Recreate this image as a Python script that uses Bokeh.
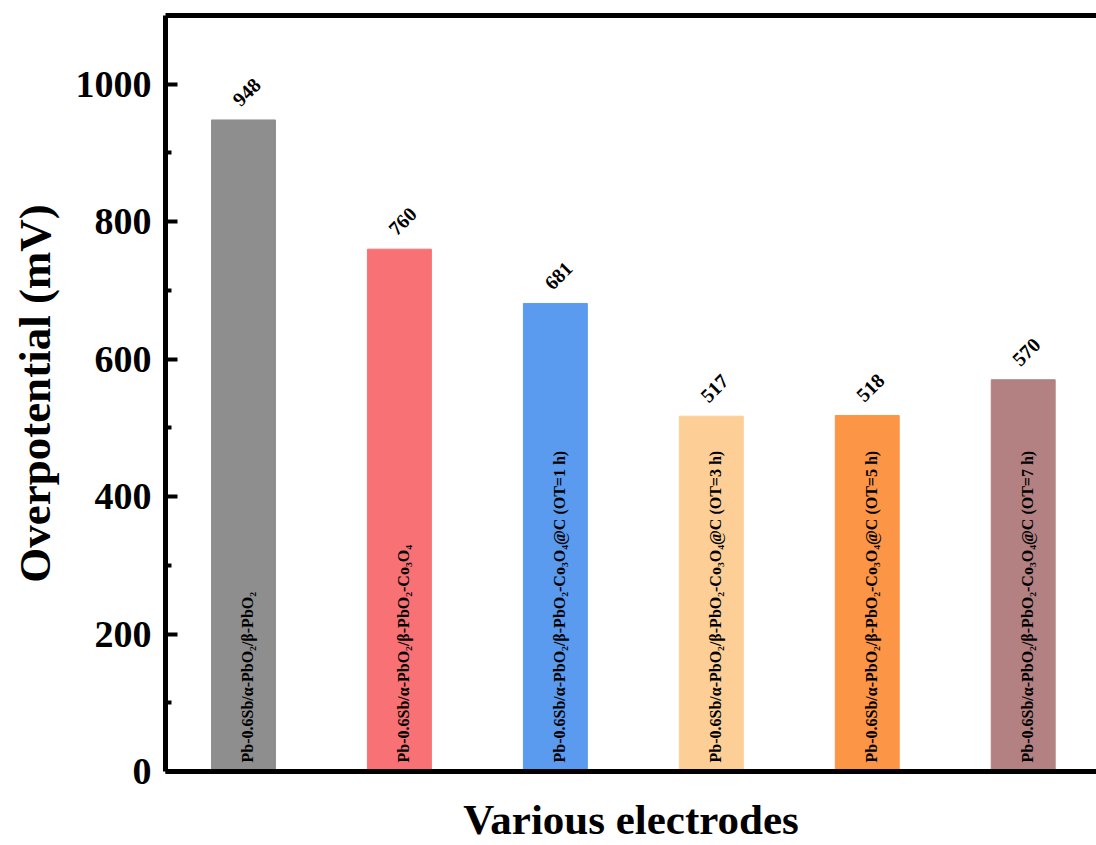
from bokeh.plotting import figure
from bokeh.models import (ColumnDataSource, Range1d, FixedTicker, LinearAxis)
from bokeh.core.properties import value
from bokeh.embed import file_html
from bokeh.resources import INLINE

# Electrode samples and their overpotentials (mV)
electrodes = [
    "Pb-0.6Sb/α-PbO₂/β-PbO₂",
    "Pb-0.6Sb/α-PbO₂/β-PbO₂-Co₃O₄",
    "Pb-0.6Sb/α-PbO₂/β-PbO₂-Co₃O₄@C (OT=1 h)",
    "Pb-0.6Sb/α-PbO₂/β-PbO₂-Co₃O₄@C (OT=3 h)",
    "Pb-0.6Sb/α-PbO₂/β-PbO₂-Co₃O₄@C (OT=5 h)",
    "Pb-0.6Sb/α-PbO₂/β-PbO₂-Co₃O₄@C (OT=7 h)",
]
overpotential = [948, 760, 681, 517, 518, 570]
bar_colors = ["#8e8e8e", "#f87275", "#5a9bef", "#fdcf97", "#fd9547", "#b38181"]
y_ticks = [0, 200, 400, 600, 800, 1000]
y_minor = [100, 300, 500, 700, 900]

FONT = "Liberation Serif"

src = ColumnDataSource(dict(
    x=list(range(len(electrodes))),
    y=overpotential,
    name=electrodes,
    color=bar_colors,
    label=[str(v) for v in overpotential],
    zero=[0] * len(electrodes),
))

p = figure(width=1096, height=845, output_backend="svg", toolbar_location=None,
           x_range=Range1d(-0.5, 5.47), y_range=Range1d(0, 1100),
           min_border_left=165, min_border_right=0, min_border_top=15,
           min_border_bottom=74, background_fill_color="white",
           border_fill_color="white")
p.outline_line_color = None
p.grid.visible = False

p.vbar(x="x", top="y", width=0.41, color="color", source=src)

# value above each bar, tilted 45 degrees
p.text(x="x", y="y", text="label", source=src, angle=0.7854,
       text_align="center", text_baseline="middle",
       x_offset=3, y_offset=-28,
       text_font=value(FONT), text_font_style="bold",
       text_font_size="20px", text_color="black")

# electrode name written upward inside each bar
p.text(x="x", y="zero", text="name", source=src, angle=1.5708,
       text_align="left", text_baseline="middle",
       x_offset=4, y_offset=-9,
       text_font=value(FONT), text_font_style="bold",
       text_font_size="16px", text_color="black")

# y axis
ya = p.yaxis[0]
ya.ticker = FixedTicker(ticks=y_ticks, minor_ticks=y_minor)
ya.axis_line_width = 5
ya.axis_line_color = "black"
ya.major_tick_line_width = 4
ya.minor_tick_line_width = 4
ya.major_tick_line_color = "black"
ya.minor_tick_line_color = "black"
ya.major_tick_in = 12
ya.major_tick_out = 0
ya.minor_tick_in = 6
ya.minor_tick_out = 0
ya.major_label_text_font = FONT
ya.major_label_text_font_style = "bold"
ya.major_label_text_font_size = "38px"
ya.major_label_text_color = "black"
ya.major_label_standoff = 14
ya.axis_label = "Overpotential (mV)"
ya.axis_label_text_font = FONT
ya.axis_label_text_font_style = "bold"
ya.axis_label_text_font_size = "45px"
ya.axis_label_text_color = "black"
ya.axis_label_standoff = 13

# x axis: heavy baseline plus title
xa = p.xaxis[0]
xa.ticker = FixedTicker(ticks=[])
xa.axis_line_width = 5
xa.axis_line_color = "black"
xa.major_tick_line_color = None
xa.minor_tick_line_color = None
xa.major_label_text_font_size = "0px"
xa.major_label_standoff = 0
xa.axis_label = "Various electrodes"
xa.axis_label_text_font = FONT
xa.axis_label_text_font_style = "bold"
xa.axis_label_text_font_size = "43px"
xa.axis_label_text_color = "black"
xa.axis_label_standoff = 24

# top frame line
top = LinearAxis(ticker=FixedTicker(ticks=[]), axis_line_width=5,
                 axis_line_color="black",
                 major_tick_line_color=None, minor_tick_line_color=None,
                 major_label_text_font_size="0px", major_label_standoff=0)
p.add_layout(top, "above")

open("out.html", "w").write(file_html(p, INLINE))
